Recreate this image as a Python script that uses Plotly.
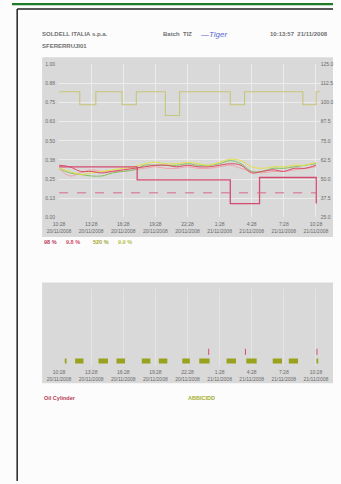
import plotly.graph_objects as go

# ---------------- data ----------------
x_tick_vals = ["2008-11-20 10:28", "2008-11-20 13:28", "2008-11-20 16:28", "2008-11-20 19:28",
               "2008-11-20 22:28", "2008-11-21 01:28", "2008-11-21 04:28", "2008-11-21 07:28",
               "2008-11-21 10:28"]
x_tick_text = ["10:28<br>20/11/2008", "13:28<br>20/11/2008", "16:28<br>20/11/2008", "19:28<br>20/11/2008",
               "22:28<br>20/11/2008", "1:28<br>21/11/2008", "4:28<br>21/11/2008", "7:28<br>21/11/2008",
               "10:28<br>21/11/2008"]
x_range = ["2008-11-20 10:28", "2008-11-21 10:50"]

left_tick_vals = [0, 0.125, 0.25, 0.375, 0.5, 0.625, 0.75, 0.875, 1.0]
left_tick_text = ["0.00", "0.13", "0.25", "0.38", "0.50", "0.63", "0.75", "0.88", "1.00"]
right_tick_text = ["25.0", "37.5", "50.0", "62.5", "75.0", "87.5", "100.0", "112.5", "125.0"]

hours = ["2008-11-20 10:28", "2008-11-20 11:28", "2008-11-20 12:28", "2008-11-20 13:28",
         "2008-11-20 14:28", "2008-11-20 15:28", "2008-11-20 16:28", "2008-11-20 17:28",
         "2008-11-20 18:28", "2008-11-20 19:28", "2008-11-20 20:28", "2008-11-20 21:28",
         "2008-11-20 22:28", "2008-11-20 23:28", "2008-11-21 00:28", "2008-11-21 01:28",
         "2008-11-21 02:28", "2008-11-21 03:28", "2008-11-21 04:28", "2008-11-21 05:28",
         "2008-11-21 06:28", "2008-11-21 07:28", "2008-11-21 08:28", "2008-11-21 09:28",
         "2008-11-21 10:28"]
red_vals = [0.34, 0.33, 0.30, 0.30, 0.29, 0.30, 0.31, 0.32, 0.33, 0.34, 0.34, 0.33, 0.34,
            0.33, 0.33, 0.34, 0.35, 0.34, 0.29, 0.30, 0.31, 0.30, 0.32, 0.32, 0.34]
green_vals = [0.32, 0.29, 0.28, 0.27, 0.27, 0.29, 0.30, 0.31, 0.34, 0.34, 0.34, 0.34, 0.35,
              0.34, 0.34, 0.35, 0.37, 0.35, 0.30, 0.30, 0.32, 0.32, 0.33, 0.34, 0.35]
yellow_vals = [0.32, 0.30, 0.28, 0.29, 0.30, 0.31, 0.32, 0.33, 0.35, 0.36, 0.35, 0.35, 0.36,
               0.35, 0.34, 0.36, 0.38, 0.37, 0.33, 0.32, 0.33, 0.33, 0.34, 0.34, 0.36]
pink_vals = [0.32, 0.27, 0.29, 0.31, 0.30, 0.30, 0.30, 0.31, 0.32, 0.33, 0.32, 0.32, 0.33,
             0.32, 0.32, 0.33, 0.34, 0.32, 0.30, 0.29, 0.30, 0.30, 0.31, 0.32, 0.33]

olive_times = ["2008-11-20 10:28", "2008-11-20 12:24", "2008-11-20 13:54", "2008-11-20 16:21",
               "2008-11-20 17:41", "2008-11-20 20:24", "2008-11-20 21:44", "2008-11-21 02:28",
               "2008-11-21 03:48", "2008-11-21 09:15", "2008-11-21 10:29", "2008-11-21 10:50"]
olive_vals = [0.82, 0.735, 0.82, 0.735, 0.82, 0.665, 0.82, 0.735, 0.82, 0.735, 0.82, 0.82]

step_times = ["2008-11-20 10:28", "2008-11-20 17:46", "2008-11-21 02:28", "2008-11-21 05:12",
              "2008-11-21 10:30"]
step_vals = [0.33, 0.245, 0.09, 0.26, 0.09]

dash_times = ["2008-11-20 10:28", "2008-11-21 10:30"]
dash_vals = [0.16, 0.16]

seg_start = ["2008-11-20 11:00", "2008-11-20 11:58", "2008-11-20 14:09", "2008-11-20 15:50",
             "2008-11-20 18:12", "2008-11-20 19:47", "2008-11-20 21:59", "2008-11-20 23:34",
             "2008-11-21 02:07", "2008-11-21 03:58", "2008-11-21 06:26", "2008-11-21 07:56",
             "2008-11-21 10:31"]
seg_end = ["2008-11-20 11:10", "2008-11-20 12:45", "2008-11-20 15:02", "2008-11-20 16:38",
           "2008-11-20 19:00", "2008-11-20 20:35", "2008-11-20 22:41", "2008-11-21 00:32",
           "2008-11-21 03:00", "2008-11-21 04:56", "2008-11-21 07:18", "2008-11-21 08:48",
           "2008-11-21 10:41"]
seg_level = 0.07
event_times = ["2008-11-21 00:27", "2008-11-21 03:53", "2008-11-21 10:34"]
event_low, event_high = 0.15, 0.23

# ---------------- figure ----------------
W, H = 341, 484
def px_x(p): return p / W
def px_y(p): return 1 - p / H

fig = go.Figure()

fig.add_trace(go.Scatter(x=olive_times, y=olive_vals, mode="lines", line_shape="hv",
                         line=dict(color="#c6c67a", width=1.1), xaxis="x", yaxis="y"))
fig.add_trace(go.Scatter(x=hours, y=pink_vals, mode="lines", line_shape="spline",
                         line=dict(color="#f2a0a8", width=1), xaxis="x", yaxis="y"))
fig.add_trace(go.Scatter(x=hours, y=green_vals, mode="lines", line_shape="spline",
                         line=dict(color="#84c064", width=1), xaxis="x", yaxis="y"))
fig.add_trace(go.Scatter(x=hours, y=yellow_vals, mode="lines", line_shape="spline",
                         line=dict(color="#e2e046", width=1), xaxis="x", yaxis="y"))
fig.add_trace(go.Scatter(x=hours, y=red_vals, mode="lines", line_shape="spline",
                         line=dict(color="#dc4a62", width=1), xaxis="x", yaxis="y"))
fig.add_trace(go.Scatter(x=step_times, y=step_vals, mode="lines", line_shape="hv",
                         line=dict(color="#d44a72", width=1.3), xaxis="x", yaxis="y"))
fig.add_trace(go.Scatter(x=dash_times, y=dash_vals, mode="lines",
                         line=dict(color="#d86a88", width=1, dash="dash"), xaxis="x", yaxis="y2"))

seg_x, seg_y = [], []
for s, e in zip(seg_start, seg_end):
    seg_x += [s, e, None]
    seg_y += [seg_level, seg_level, None]
fig.add_trace(go.Scatter(x=seg_x, y=seg_y, mode="lines", connectgaps=False,
                         line=dict(color="#98a21c", width=5), xaxis="x2", yaxis="y3"))
ev_x, ev_y = [], []
for t in event_times:
    ev_x += [t, t, None]
    ev_y += [event_low, event_high, None]
fig.add_trace(go.Scatter(x=ev_x, y=ev_y, mode="lines", connectgaps=False,
                         line=dict(color="#d0506e", width=1), xaxis="x2", yaxis="y3"))

tickfont = dict(family="Liberation Sans, Arial, sans-serif", size=5, color="#6a6a6a")
grid = "#ececec"
xdom = [px_x(50), px_x(327)]
clear = "rgba(0,0,0,0)"

fig.update_layout(
    width=W, height=H, margin=dict(l=0, r=0, t=0, b=0),
    paper_bgcolor="#fcfcfc", plot_bgcolor="#d9d9d9", showlegend=False,
    xaxis=dict(domain=xdom, anchor="y", type="date", range=x_range, tickvals=x_tick_vals,
               ticktext=x_tick_text, tickfont=tickfont, showgrid=True, gridcolor=grid,
               gridwidth=1, zeroline=False, showline=False, ticks="outside", ticklen=2,
               tickcolor=clear, tickangle=0),
    yaxis=dict(domain=[px_y(217), px_y(62)], range=[0, 1], tickvals=left_tick_vals,
               ticktext=left_tick_text, tickfont=tickfont, showgrid=True, gridcolor=grid,
               zeroline=False, showline=False, ticks="outside", ticklen=2, tickcolor=clear),
    yaxis2=dict(overlaying="y", side="right", anchor="x", range=[0, 1], tickvals=left_tick_vals,
                ticktext=right_tick_text, tickfont=tickfont, showgrid=False, zeroline=False,
                showline=False, ticks=""),
    xaxis2=dict(domain=xdom, anchor="y3", type="date", range=x_range, tickvals=x_tick_vals,
                ticktext=x_tick_text, tickfont=tickfont, showgrid=True, gridcolor="#e4e4e4",
                zeroline=False, showline=False, ticks="outside", ticklen=1, tickcolor=clear,
                tickangle=0),
    yaxis3=dict(domain=[px_y(368), px_y(290)], range=[0, 1], showticklabels=False,
                showgrid=False, zeroline=False, showline=False, ticks=""),
)

shapes = [
    dict(type="rect", xref="paper", yref="paper", x0=px_x(32), x1=1, y0=px_y(237), y1=px_y(55),
         fillcolor="#d9d9d9", line=dict(width=0), layer="below"),
    dict(type="rect", xref="paper", yref="paper", x0=px_x(32), x1=1, y0=px_y(385), y1=px_y(283),
         fillcolor="#d9d9d9", line=dict(width=0), layer="below"),
    dict(type="rect", xref="paper", yref="paper", x0=0, x1=1, y0=px_y(2.2), y1=1,
         fillcolor="#1f7a2a", line=dict(width=0)),
    dict(type="line", xref="paper", yref="paper", x0=px_x(5.5), x1=1, y0=px_y(6), y1=px_y(6),
         line=dict(color="#222222", width=1.5)),
    dict(type="line", xref="paper", yref="paper", x0=px_x(5.5), x1=px_x(5.5), y0=0, y1=px_y(6),
         line=dict(color="#222222", width=1.5)),
]
fig.update_layout(shapes=shapes)

def txt(x, y, s, color="#606060", size=6, bold=False, italic=False, anchor="left"):
    if bold:
        s = "<b>" + s + "</b>"
    if italic:
        s = "<i>" + s + "</i>"
    fig.add_annotation(x=px_x(x), y=px_y(y), xref="paper", yref="paper", text=s, showarrow=False,
                       xanchor=anchor, yanchor="middle",
                       font=dict(family="Liberation Sans, Arial, sans-serif", size=size, color=color))

txt(30, 31, "SOLDELL ITALIA s.p.a.", size=6, bold=True, color="#707070")
txt(158, 31, "Batch  TIZ", size=6, bold=True, color="#707070")
txt(198, 32, "—Tiger", size=8, italic=True, color="#5a6ad0")
txt(272, 31, "10:13:57  21/11/2008", size=6, bold=True, color="#707070")
txt(30, 44, "SFERERRUJI01", size=6, bold=True, color="#707070")

txt(32, 242, "98 %", size=5.5, bold=True, color="#b83a5a")
txt(55, 242, "9.8 %", size=5.5, bold=True, color="#d04a66")
txt(84, 242, "520 %", size=5.5, bold=True, color="#a4a830")
txt(110, 242, "9.9 %", size=5.5, bold=True, color="#b8c04a")

txt(32, 400, "Oil Cylinder", size=5.5, bold=True, color="#b83a5a")
txt(185, 400, "ABBICIDD", size=5.5, bold=True, color="#a4ae30")

fig.write_html("out.html", config={"displayModeBar": False, "staticPlot": True},
               post_script="document.body.style.margin='0';document.body.style.overflow='hidden';")
